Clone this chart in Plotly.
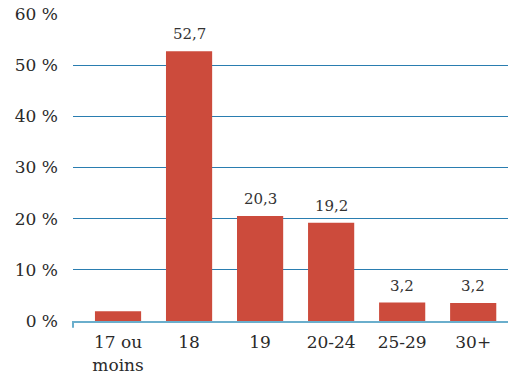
import plotly.graph_objects as go

categories = ["17 ou<br>moins", "18", "19", "20-24", "25-29", "30+"]
values = [1.9, 52.7, 20.5, 19.2, 3.6, 3.5]
labels = ["", "52,7", "20,3", "19,2", "3,2", "3,2"]
y_ticks = [0, 10, 20, 30, 40, 50, 60]
y_ticktext = [f"{v} %" for v in y_ticks]

xpos = list(range(len(categories)))

fig = go.Figure()
fig.add_trace(go.Bar(
    x=xpos, y=values, width=0.65,
    marker=dict(color="#cc4b3c", line=dict(width=0)),
    hoverinfo="skip",
))

for xi, v, lab in zip(xpos, values, labels):
    if lab:
        fig.add_annotation(x=xi, y=v, text=lab, showarrow=False,
                           yanchor="bottom", yshift=6,
                           font=dict(family="DejaVu Serif", size=15, color="#333333"))

fig.add_shape(type="line", xref="paper", yref="paper", x0=0, x1=0, y0=0, y1=-0.022,
              line=dict(color="#6aaecc", width=2))

fig.update_layout(
    width=508, height=379,
    margin=dict(l=73, r=0, t=14, b=58),
    paper_bgcolor="white", plot_bgcolor="white",
    showlegend=False,
    font=dict(family="DejaVu Serif", size=17, color="#333333"),
    xaxis=dict(
        range=[-0.634, 5.49],
        tickvals=xpos, ticktext=categories,
        showgrid=False, zeroline=False,
        showline=True, linecolor="#6aaecc", linewidth=2,
        ticks="", ticklabelstandoff=5,
        tickfont=dict(size=17, color="#2a2a2a"),
    ),
    yaxis=dict(
        range=[0, 60],
        tickvals=y_ticks, ticktext=y_ticktext,
        showgrid=True, gridcolor="#2a7db0", gridwidth=1.2,
        zeroline=False, showline=False,
        ticks="", ticklabelstandoff=14,
        tickfont=dict(size=17, color="#2a2a2a"),
    ),
)

fig.write_html("out.html")
